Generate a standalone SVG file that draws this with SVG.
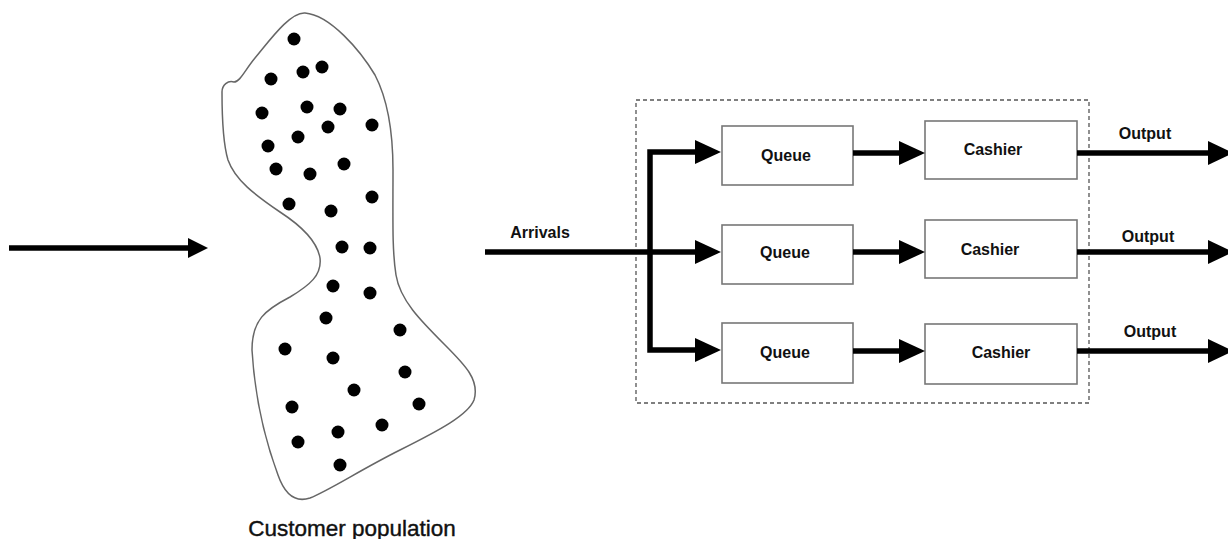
<svg xmlns="http://www.w3.org/2000/svg" width="1228" height="539" viewBox="0 0 1228 539">
<style>
.box{fill:#fff;stroke:#777;stroke-width:1.6}
.lbl{font-family:"Liberation Sans",Arial,sans-serif;font-weight:bold;font-size:16px;fill:#111;text-anchor:middle}
.ln{stroke:#000;stroke-width:5.5;fill:none}
.hd{fill:#000}
.dot{fill:#000}
</style>
<rect width="1228" height="539" fill="#fff"/>
<g id="population">
<path d="M305,13 C330,15 360,50 375,75 C388,100 393,130 393,170 C393,220 392,250 396,275 C400,300 420,320 445,345 C465,365 480,380 474,400 C468,415 440,430 400,450 C360,470 330,490 310,498 C295,503 285,495 278,475 C265,440 255,400 252,350 C252,320 265,310 290,297 C310,285 322,275 320,258 C317,240 300,225 280,212 C255,195 235,180 228,160 C222,140 222,110 222,92 C222,85 228,80 234,82 C240,82 245,70 255,58 C270,40 290,12 305,13 Z" fill="#fff" stroke="#666" stroke-width="1.5"/>
<g class="dot">
<circle cx="294" cy="39" r="6.5"/><circle cx="271" cy="79" r="6.5"/><circle cx="303" cy="72" r="6.5"/><circle cx="322" cy="67" r="6.5"/>
<circle cx="262" cy="113" r="6.5"/><circle cx="307" cy="107" r="6.5"/><circle cx="340" cy="109" r="6.5"/><circle cx="328" cy="127" r="6.5"/>
<circle cx="372" cy="125" r="6.5"/><circle cx="298" cy="137" r="6.5"/><circle cx="268" cy="146" r="6.5"/><circle cx="276" cy="169" r="6.5"/>
<circle cx="310" cy="174" r="6.5"/><circle cx="344" cy="164" r="6.5"/><circle cx="289" cy="204" r="6.5"/><circle cx="331" cy="211" r="6.5"/>
<circle cx="372" cy="197" r="6.5"/><circle cx="342" cy="247" r="6.5"/><circle cx="370" cy="248" r="6.5"/>
<circle cx="333" cy="286" r="6.5"/><circle cx="370" cy="293" r="6.5"/><circle cx="326" cy="318" r="6.5"/><circle cx="400" cy="330" r="6.5"/>
<circle cx="285" cy="349" r="6.5"/><circle cx="333" cy="358" r="6.5"/><circle cx="405" cy="372" r="6.5"/><circle cx="354" cy="390" r="6.5"/>
<circle cx="292" cy="407" r="6.5"/><circle cx="419" cy="404" r="6.5"/><circle cx="382" cy="425" r="6.5"/><circle cx="338" cy="432" r="6.5"/>
<circle cx="298" cy="442" r="6.5"/><circle cx="340" cy="465" r="6.5"/>
</g>
<text x="352" y="536" font-family="'Liberation Sans',Arial,sans-serif" font-size="22.5" fill="#111" stroke="#111" stroke-width="0.4" text-anchor="middle">Customer population</text>
</g>
<g id="system">
<rect x="636" y="100" width="453" height="303" fill="none" stroke="#555" stroke-width="1.3" stroke-dasharray="4,3"/>
</g>
<g id="queue1"><rect class="box" x="722" y="126" width="131" height="59"/><text class="lbl" x="786" y="161">Queue</text></g>
<g id="queue2"><rect class="box" x="722" y="225" width="131" height="59"/><text class="lbl" x="785" y="258">Queue</text></g>
<g id="queue3"><rect class="box" x="722" y="323" width="131" height="60"/><text class="lbl" x="785" y="358">Queue</text></g>
<g id="cashier1"><rect class="box" x="925" y="121" width="152" height="58"/><text class="lbl" x="993" y="155">Cashier</text></g>
<g id="cashier2"><rect class="box" x="925" y="220" width="152" height="58"/><text class="lbl" x="990" y="255">Cashier</text></g>
<g id="cashier3"><rect class="box" x="925" y="324" width="152" height="60"/><text class="lbl" x="1001" y="358">Cashier</text></g>
<g id="connectors">
<line class="ln" x1="9" y1="248" x2="190" y2="248"/>
<polygon class="hd" points="188,238 208,248 188,258"/>
<line class="ln" x1="485" y1="252" x2="697" y2="252"/>
<polyline class="ln" points="697,152 650,152 650,350 697,350" stroke-linejoin="miter"/>
<polygon class="hd" points="695,140 721,152 695,164"/>
<polygon class="hd" points="695,240 721,252 695,264"/>
<polygon class="hd" points="695,338 721,350 695,362"/>
<line class="ln" x1="853" y1="153" x2="901" y2="153"/>
<line class="ln" x1="853" y1="252" x2="901" y2="252"/>
<line class="ln" x1="853" y1="351" x2="901" y2="351"/>
<polygon class="hd" points="899,141 925,153 899,165"/>
<polygon class="hd" points="899,240 925,252 899,264"/>
<polygon class="hd" points="899,339 925,351 899,363"/>
<line class="ln" x1="1077" y1="153" x2="1210" y2="153"/>
<line class="ln" x1="1077" y1="252" x2="1210" y2="252"/>
<line class="ln" x1="1077" y1="351" x2="1210" y2="351"/>
<polygon class="hd" points="1208,141 1233,153 1208,165"/>
<polygon class="hd" points="1208,240 1233,252 1208,264"/>
<polygon class="hd" points="1208,339 1233,351 1208,363"/>
<text class="lbl" x="540" y="238">Arrivals</text>
<text class="lbl" x="1145" y="139">Output</text>
<text class="lbl" x="1148" y="242">Output</text>
<text class="lbl" x="1150" y="337">Output</text>
</g>
</svg>
